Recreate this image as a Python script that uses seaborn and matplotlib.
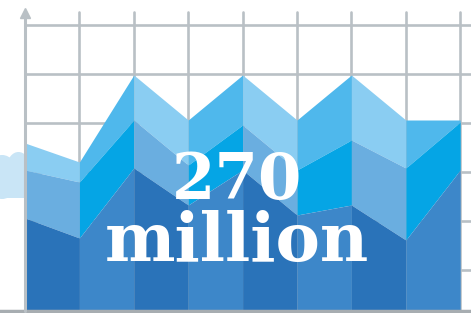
import matplotlib
matplotlib.use('Agg')
import matplotlib.pyplot as plt
import seaborn as sns
from matplotlib.patches import Ellipse

# layer tops at each grid column (value = height above the bottom edge)
columns = [0, 1, 2, 3, 4, 5, 6, 7, 8]
light_top = [170, 151, 238, 193, 238, 193, 238, 193, 193]
mid_top = [143, 131, 193, 148, 188, 143, 173, 145, 191]
dark_top = [95, 75, 145, 108, 143, 98, 108, 73, 143]

# two shades per layer: falling / rising facets
light_colors = ['#8acdf2', '#4fb8ec']
mid_colors = ['#6aaee0', '#05a5e5']
dark_colors = ['#2a73b9', '#3d87c9']

big_number = '270'
big_unit = 'million'

sns.set_theme(style='white')
plt.rcParams['font.family'] = ['DejaVu Serif']

fig = plt.figure(figsize=(4.71, 3.13), dpi=100)
ax = fig.add_axes([0, 0, 1, 1])
ax.set_xlim(-25 / 54.4, (471 - 25) / 54.4)
ax.set_ylim(0, 313)
ax.axis('off')

grid_c = '#b9c0c5'
for c in columns:
    ax.plot([c, c], [3, 301], color=grid_c, lw=1.9, zorder=1)
for h in [288, 239, 190, 141, 92, 43]:
    ax.plot([0, 8.3], [h, h], color=grid_c, lw=1.9, zorder=1)

# cloud behind the axis
cloud_c = '#c9e5f6'
for cx, cy, w, hgt in [(-0.42, 136, 0.6, 44), (-0.12, 146, 0.42, 30), (0.02, 132, 0.4, 32)]:
    ax.add_patch(Ellipse((cx, cy), w, hgt, color=cloud_c, zorder=2, lw=0))
ax.fill_between([-0.5, 0.1], 115, 134, color=cloud_c, zorder=2, lw=0)

# faceted stacked areas, one segment at a time
for i in range(len(columns) - 1):
    xs = columns[i:i + 2]
    k = 1 if light_top[i + 1] >= light_top[i] else 0
    ax.fill_between(xs, mid_top[i:i + 2], light_top[i:i + 2], color=light_colors[k], lw=0, zorder=3)
    ax.fill_between(xs, dark_top[i:i + 2], mid_top[i:i + 2], color=mid_colors[k], lw=0, zorder=3)
    ax.fill_between(xs, 3, dark_top[i:i + 2], color=dark_colors[k], lw=0, zorder=3)

# axes
ax.plot([-0.5, 8.3], [2, 2], color='#a7adb1', lw=2.5, zorder=4)
ax.plot([0, 0], [2, 297], color=grid_c, lw=2.2, zorder=4)
ax.plot([0], [300], marker='^', color=grid_c, markersize=7, zorder=4)

ax.text(0.503, 0.42, big_number, transform=ax.transAxes, ha='center', va='center',
        color='white', fontsize=45, fontweight='bold', zorder=5)
ax.text(0.503, 0.225, big_unit, transform=ax.transAxes, ha='center', va='center',
        color='white', fontsize=48, fontweight='bold', zorder=5)

fig.savefig('out.png', dpi=100)
